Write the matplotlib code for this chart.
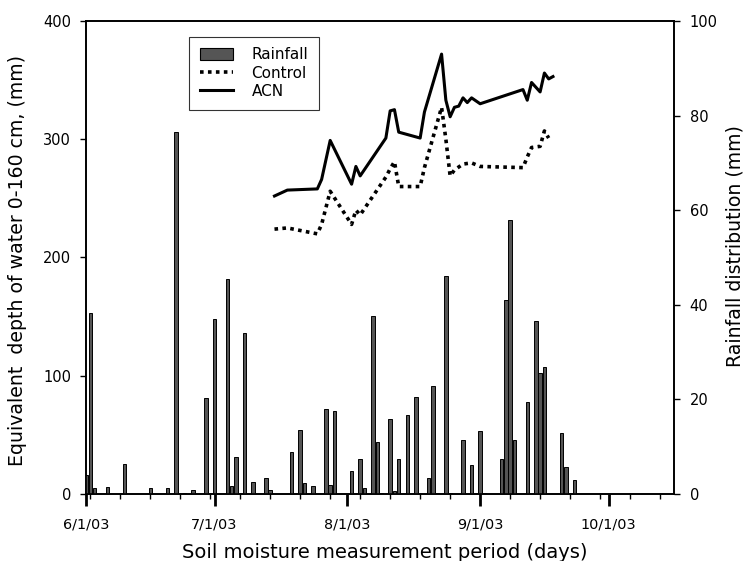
import datetime

import matplotlib
matplotlib.use("Agg")
from matplotlib import pyplot as plt
import matplotlib.dates as mdates
from matplotlib.patches import Patch
from matplotlib.lines import Line2D

plt.rcParams['font.family'] = ['DejaVu Sans']

## Rainfall (right axis, mm)
rain_dates = ["2003-06-01", "2003-06-02", "2003-06-03", "2003-06-06", "2003-06-10", "2003-06-16",
              "2003-06-20", "2003-06-22", "2003-06-24", "2003-06-26", "2003-06-29", "2003-07-01",
              "2003-07-04", "2003-07-05", "2003-07-06", "2003-07-08", "2003-07-10", "2003-07-13",
              "2003-07-14", "2003-07-19", "2003-07-21", "2003-07-22", "2003-07-24", "2003-07-27",
              "2003-07-28", "2003-07-29", "2003-08-02", "2003-08-04", "2003-08-05", "2003-08-07",
              "2003-08-08", "2003-08-09", "2003-08-11", "2003-08-12", "2003-08-13", "2003-08-15",
              "2003-08-17", "2003-08-20", "2003-08-21", "2003-08-22", "2003-08-24", "2003-08-25",
              "2003-08-28", "2003-08-30", "2003-09-01", "2003-09-02", "2003-09-06", "2003-09-07",
              "2003-09-08", "2003-09-09", "2003-09-12", "2003-09-14", "2003-09-15", "2003-09-16",
              "2003-09-20", "2003-09-21", "2003-09-23"]
rain_mm = [4.0, 38.3, 1.3, 1.5, 6.3, 1.2,
           1.2, 76.6, 0.2, 0.9, 20.2, 37.0,
           45.5, 1.8, 7.9, 34.0, 2.5, 3.4,
           0.9, 8.9, 13.5, 2.3, 1.6, 17.9,
           2.0, 17.6, 4.9, 7.5, 1.2, 37.6,
           11.0, 0.2, 15.8, 0.7, 7.5, 16.8,
           20.6, 3.4, 22.8, 0.2, 46.1, 0.2,
           11.4, 6.1, 13.4, 0.3, 7.3, 41.0,
           57.9, 11.4, 19.5, 36.6, 25.5, 26.9,
           13.0, 5.8, 3.0]

## Soil water depth (left axis, mm)
acn_dates = ["2003-07-15", "2003-07-18", "2003-07-25", "2003-07-26", "2003-07-28", "2003-08-02",
             "2003-08-03", "2003-08-04", "2003-08-10", "2003-08-11", "2003-08-12", "2003-08-13",
             "2003-08-18", "2003-08-19", "2003-08-23", "2003-08-24", "2003-08-25", "2003-08-26",
             "2003-08-27", "2003-08-28", "2003-08-29", "2003-08-30", "2003-09-01", "2003-09-11",
             "2003-09-12", "2003-09-13", "2003-09-15", "2003-09-16", "2003-09-17", "2003-09-18"]
acn = [252, 257, 258, 266, 299, 262,
       277, 269, 301, 324, 325, 306,
       301, 323, 372, 333, 319, 327,
       328, 335, 331, 335, 330, 342,
       333, 348, 340, 356, 351, 353]

control_dates = ["2003-07-15", "2003-07-18", "2003-07-25", "2003-07-26", "2003-07-28", "2003-08-02",
                 "2003-08-03", "2003-08-04", "2003-08-10", "2003-08-11", "2003-08-12", "2003-08-13",
                 "2003-08-18", "2003-08-19", "2003-08-23", "2003-08-24", "2003-08-25", "2003-08-26",
                 "2003-08-28", "2003-08-30", "2003-09-01", "2003-09-11", "2003-09-12", "2003-09-13",
                 "2003-09-15", "2003-09-16", "2003-09-17"]
control = [224, 225, 220, 228, 256, 228,
           240, 236, 268, 275, 281, 260,
           260, 276, 327, 300, 269, 274,
           279, 280, 277, 276, 285, 293,
           294, 307, 301]

to_dt = lambda d: datetime.datetime.strptime(d, "%Y-%m-%d")
rain_x = [to_dt(d) for d in rain_dates]
acn_x = [to_dt(d) for d in acn_dates]
control_x = [to_dt(d) for d in control_dates]

fig = plt.figure(figsize=(7.45, 5.61), dpi=100)
ax = fig.add_axes([0.1154, 0.1194, 0.7893, 0.8432])
ax2 = ax.twinx()

ax2.bar(rain_x, rain_mm, width=0.8, color="#555555", edgecolor="black", linewidth=0.7)
ax.plot(control_x, control, color="black", linestyle=(0, (1, 1.2)), linewidth=2.6)
ax.plot(acn_x, acn, color="black", linestyle="-", linewidth=2.2)

ax.set_xlim(datetime.datetime(2003, 6, 1), datetime.datetime(2003, 10, 16, 6))
ax.set_ylim(0, 400)
ax2.set_ylim(0, 100)
ax.set_yticks([0, 100, 200, 300, 400])
ax2.set_yticks([0, 20, 40, 60, 80, 100])

ax.xaxis.set_major_locator(mdates.MonthLocator())
ax.xaxis.set_major_formatter(mdates.DateFormatter("%-m/%-d/%y"))
ax.xaxis.set_minor_locator(mdates.WeekdayLocator(byweekday=mdates.MO))

ax.tick_params(axis="x", which="major", length=8.6, width=2, labelsize=10.4, pad=8)
ax.tick_params(axis="x", which="minor", length=3.4, width=1)
ax.tick_params(axis="y", length=4.3, width=1, labelsize=10.5, pad=6.5)
ax2.tick_params(axis="y", length=4.3, width=1, labelsize=10.5, pad=7)

for a in (ax, ax2):
    for s in a.spines.values():
        s.set_linewidth(1.2)

ax.set_xlabel("Soil moisture measurement period (days)", fontsize=14)
ax.set_ylabel("Equivalent  depth of water 0-160 cm, (mm)", fontsize=13.6)
ax2.set_ylabel("Rainfall distribution (mm)", fontsize=13.6)
ax.xaxis.set_label_coords(0.508, -0.104)
ax.yaxis.set_label_coords(-0.100, 0.4926)
ax2.yaxis.set_label_coords(1.088, 0.525)

handles = [Patch(facecolor="#555555", edgecolor="black", linewidth=0.8),
           Line2D([], [], color="black", linestyle=(0, (1, 1.2)), linewidth=2.6),
           Line2D([], [], color="black", linewidth=2.2)]
leg = ax2.legend(handles, ["Rainfall", "Control", "ACN"], loc="upper left",
                 bbox_to_anchor=(0.175, 0.967), borderaxespad=0, fontsize=11, frameon=True,
                 fancybox=False, edgecolor="black", handlelength=2.16, handleheight=0.85,
                 handletextpad=1.24, borderpad=0.7, labelspacing=0.22)
leg.get_frame().set_linewidth(0.8)

fig.savefig("out.png", dpi=100)
